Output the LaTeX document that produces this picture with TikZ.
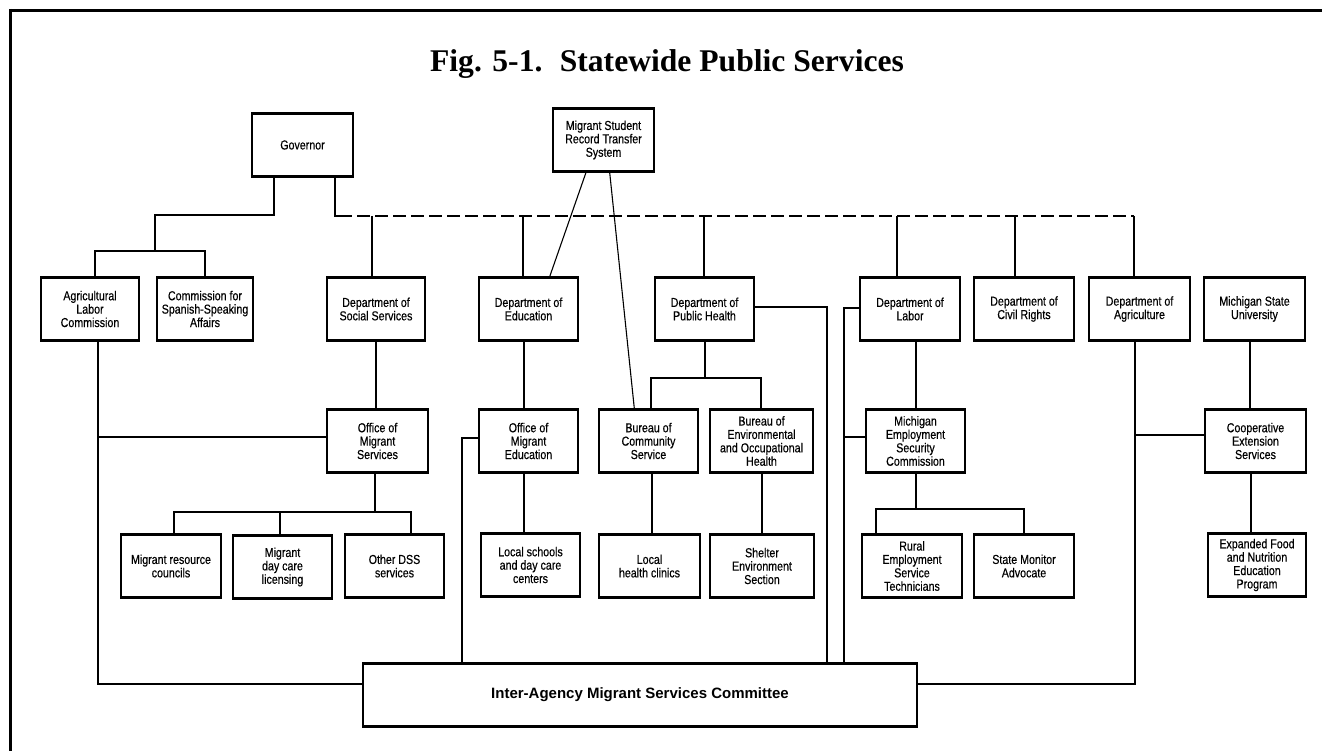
\documentclass[tikz,border=0pt]{standalone}
\usepackage{fontspec}
\setmainfont{Liberation Serif}
\newfontfamily\boxfont[FakeStretch=0.82,FakeBold=0.4]{Liberation Sans}
\newfontfamily\comfont{Liberation Sans}
\usetikzlibrary{calc}
\begin{document}
\begin{tikzpicture}[x=1pt,y=-1pt,
  box/.style={draw, line width=2.5pt, fill=white, align=center, inner sep=1pt,
    font=\boxfont\fontsize{13}{13.4}\selectfont, minimum height=63pt},
  conn/.style={line width=2pt},
  thinline/.style={line width=1.1pt},
  dashline/.style={line width=2pt, dash pattern=on 13pt off 5pt},
  frame/.style={line width=2.8pt}]
\useasboundingbox (0,0) rectangle (1322,751);

% frame
\draw[frame] (9,10.5) -- (1322,10.5);
\draw[frame] (10.5,9) -- (10.5,751);

% title
\node[anchor=base, font=\bfseries\fontsize{31.6}{34}\selectfont, inner sep=0] (title) at (667,72) {Fig. 5-1.\hspace{0.55em}Statewide Public Services};

% coordinates for junctions
\coordinate (gl) at (274,215);
\coordinate (gj) at (155,251);
\coordinate (ga) at (95,251);
\coordinate (gc) at (205,251);
\coordinate (gr) at (335,216);
\coordinate (b1) at (372,216);
\coordinate (b2) at (523,216);
\coordinate (b3) at (704,216);
\coordinate (b4) at (897,216);
\coordinate (b5) at (1015,216);
\coordinate (b6) at (1134,216);
\coordinate (al) at (98,684);
\coordinate (ao) at (98,437);
\coordinate (oe) at (462,438);
\coordinate (dr) at (827,307);
\coordinate (ll) at (844,308);
\coordinate (lm) at (844,437);
\coordinate (ab) at (1135,684);
\coordinate (ac) at (1135,435);
\coordinate (pj) at (705,378);
\coordinate (p1) at (651,378);
\coordinate (p2) at (761,378);
\coordinate (sj) at (375,512);
\coordinate (s1) at (174,512);
\coordinate (s2) at (280,512);
\coordinate (s3) at (411,512);
\coordinate (mj) at (916,509);
\coordinate (m1) at (876,509);
\coordinate (m2) at (1024,509);

% nodes
\node[box, minimum width=101pt] (gov) at (302.5,145) {Governor};
\node[box, minimum width=101pt] (mst) at (603.5,140) {Migrant Student\\Record Transfer\\System};

\node[box, minimum width=98pt]  (alc) at (90,309) {Agricultural\\Labor\\Commission};
\node[box, minimum width=96pt]  (csa) at (205,309) {Commission for\\Spanish-Speaking\\Affairs};
\node[box, minimum width=98pt]  (dss) at (376,309) {Department of\\Social Services};
\node[box, minimum width=99pt]  (ded) at (528.5,309) {Department of\\Education};
\node[box, minimum width=99pt]  (dph) at (704.5,309) {Department of\\Public Health};
\node[box, minimum width=100pt] (dla) at (910,309) {Department of\\Labor};
\node[box, minimum width=100pt] (dcr) at (1024,309) {Department of\\Civil Rights};
\node[box, minimum width=101pt] (dag) at (1139.5,309) {Department of\\Agriculture};
\node[box, minimum width=101pt] (msu) at (1254.5,309) {Michigan State\\University};

\node[box, minimum width=101pt] (oms) at (377.5,441) {Office of\\Migrant\\Services};
\node[box, minimum width=99pt]  (ome) at (528.5,441) {Office of\\Migrant\\Education};
\node[box, minimum width=99pt]  (bcs) at (648.5,441) {Bureau of\\Community\\Service};
\node[box, minimum width=103pt] (beo) at (761.5,441) {Bureau of\\Environmental\\and Occupational\\Health};
\node[box, minimum width=99pt]  (mes) at (915.5,441) {Michigan\\Employment\\Security\\Commission};
\node[box, minimum width=101pt] (coo) at (1255.5,441) {Cooperative\\Extension\\Services};

\node[box, minimum width=100pt] (mrc) at (171,566) {Migrant resource\\councils};
\node[box, minimum width=99pt]  (mdc) at (282.5,567) {Migrant\\day care\\licensing};
\node[box, minimum width=99pt]  (ods) at (394.5,566) {Other DSS\\services};
\node[box, minimum width=99pt]  (lsc) at (530.5,565) {Local schools\\and day care\\centers};
\node[box, minimum width=101pt] (lhc) at (649.5,566) {Local\\health clinics};
\node[box, minimum width=104pt] (sec) at (762,566) {Shelter\\Environment\\Section};
\node[box, minimum width=100pt] (res) at (912,566) {Rural\\Employment\\Service\\Technicians};
\node[box, minimum width=100pt] (smo) at (1024,566) {State Monitor\\Advocate};
\node[box, minimum width=98pt]  (efn) at (1257,565) {Expanded Food\\and Nutrition\\Education\\Program};

\node[box, minimum width=554pt, font=\comfont\bfseries\fontsize{15}{17}\selectfont] (com) at (640,695) {Inter-Agency Migrant Services Committee};

% connectors
\draw[conn] (gl |- gov.south) -- (gl) -- (gj |- gl) -- (gj);
\draw[conn] (ga |- alc.north) -- (ga) -- (gc) -- (gc |- csa.north);
\draw[conn] (gr |- gov.south) -- (gr) -- ([xshift=4pt]gr);
\draw[dashline] ([xshift=4pt]gr) -- (b6);
\draw[conn] (b1) -- (b1 |- dss.north);
\draw[conn] (b2) -- (b2 |- ded.north);
\draw[conn] (b3) -- (b3 |- dph.north);
\draw[conn] (b4) -- (b4 |- dla.north);
\draw[conn] (b5) -- (b5 |- dcr.north);
\draw[conn] (b6) -- (b6 |- dag.north);

\draw[thinline] ($(mst.south west)!0.33!(mst.south east)$) -- ($(ded.north west)!0.71!(ded.north east)$);
\draw[thinline] ($(mst.south west)!0.56!(mst.south east)$) -- ($(bcs.north west)!0.36!(bcs.north east)$);

\draw[conn] (dss.south) -- (dss.south |- oms.north);
\draw[conn] ([xshift=-4.5pt]ded.south) -- ([xshift=-4.5pt]ded.south |- ome.north);
\draw[conn] (pj |- dph.south) -- (pj);
\draw[conn] (p1 |- bcs.north) -- (p1) -- (p2) -- (p2 |- beo.north);
\draw[conn] ([xshift=0.5pt]mes.north) -- ([xshift=0.5pt]mes.north |- dla.south);
\draw[conn] ([xshift=-4.5pt]msu.south) -- ([xshift=-4.5pt]msu.south |- coo.north);

\draw[conn] (al |- alc.south) -- (al) -- (al -| com.west);
\draw[conn] (ao) -- (ao -| oms.west);
\draw[conn] (oe -| ome.west) -- (oe) -- (oe |- com.north);
\draw[conn] (dr -| dph.east) -- (dr) -- (dr |- com.north);
\draw[conn] (ll -| dla.west) -- (ll) -- (ll |- com.north);
\draw[conn] (lm) -- (lm -| mes.west);
\draw[conn] (ab |- dag.south) -- (ab) -- (ab -| com.east);
\draw[conn] (ac) -- (ac -| coo.west);

\draw[conn] (sj |- oms.south) -- (sj);
\draw[conn] (s1 |- mrc.north) -- (s1) -- (s3) -- (s3 |- ods.north);
\draw[conn] (s2) -- (s2 |- mdc.north);
\draw[conn] ([xshift=-4.5pt]ome.south) -- ([xshift=-4.5pt]ome.south |- lsc.north);
\draw[conn] ([xshift=3.5pt]bcs.south) -- ([xshift=3.5pt]bcs.south |- lhc.north);
\draw[conn] ([xshift=0.5pt]beo.south) -- ([xshift=0.5pt]beo.south |- sec.north);
\draw[conn] (mj |- mes.south) -- (mj);
\draw[conn] (m1 |- res.north) -- (m1) -- (m2) -- (m2 |- smo.north);
\draw[conn] ([xshift=-4.5pt]coo.south) -- ([xshift=-4.5pt]coo.south |- efn.north);
\end{tikzpicture}
\end{document}
